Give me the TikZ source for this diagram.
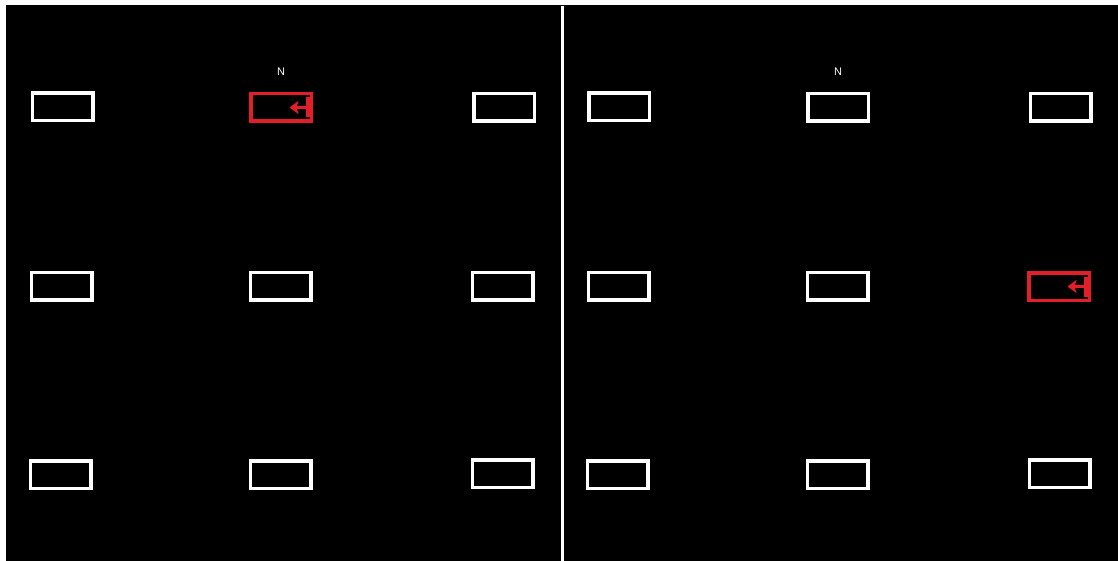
\documentclass[tikz,border=0pt]{standalone}
\usepackage{fontspec}
\setmainfont{Liberation Sans}
\usetikzlibrary{arrows.meta}
\definecolor{exitred}{RGB}{228,30,40}
\tikzset{
  seat/.style={draw=white, line width=3.5pt, minimum width=60.5pt, minimum height=27.5pt, inner sep=0pt},
  exitseat/.style={seat, draw=exitred},
  lbl/.style={text=white, font=\fontsize{11}{13}\selectfont, inner sep=0pt},
  exitarrow/.style={draw=exitred, line width=3.5pt, -{Stealth[length=9pt,width=13pt,inset=2pt]}},
  exitbar/.style={draw=exitred, line width=3.8pt}
}
\begin{document}
\begin{tikzpicture}[x=1pt,y=-1pt]
\useasboundingbox (0,0) rectangle (1118,561);
\fill[white] (0,0) rectangle (1118,561);
\fill[black] (6,5) rectangle (1130,575);
\coordinate (dtop) at (562,6);
\coordinate (dbot) at (562,575);
\draw[white, line width=3pt] (dtop) -- (dbot);
% left panel
\node[seat] (a11) at (62.5,107) {};
\node[exitseat] (a12) at (281,107.5) {};
\node[seat] (a13) at (504,107.5) {};
\node[seat] (a21) at (61.5,286) {};
\node[seat] (a22) at (280.5,286) {};
\node[seat] (a23) at (502.5,286) {};
\node[seat] (a31) at (60.5,474.5) {};
\node[seat] (a32) at (280.5,474.5) {};
\node[seat] (a33) at (502.5,473.5) {};
% right panel
\node[seat] (b11) at (619,107) {};
\node[seat] (b12) at (838,107.5) {};
\node[seat] (b13) at (1060.5,107.5) {};
\node[seat] (b21) at (618.5,286) {};
\node[seat] (b22) at (837.5,286) {};
\node[exitseat] (b23) at (1059,286.5) {};
\node[seat] (b31) at (617.5,474.5) {};
\node[seat] (b32) at (837.5,474.5) {};
\node[seat] (b33) at (1059.5,473.5) {};
% labels
\node[lbl] (nl) at (281,72) {N};
\node[lbl] (nr) at (838,72) {N};
% exit arrows
\draw[exitbar] ([xshift=27pt,yshift=-10pt]a12.center) -- ([xshift=27pt,yshift=10pt]a12.center);
\draw[exitarrow] ([xshift=27pt]a12.center) -- ([xshift=8.5pt]a12.center);
\draw[exitbar] ([xshift=27pt,yshift=-10pt]b23.center) -- ([xshift=27pt,yshift=10pt]b23.center);
\draw[exitarrow] ([xshift=27pt]b23.center) -- ([xshift=8.5pt]b23.center);
\end{tikzpicture}
\end{document}
